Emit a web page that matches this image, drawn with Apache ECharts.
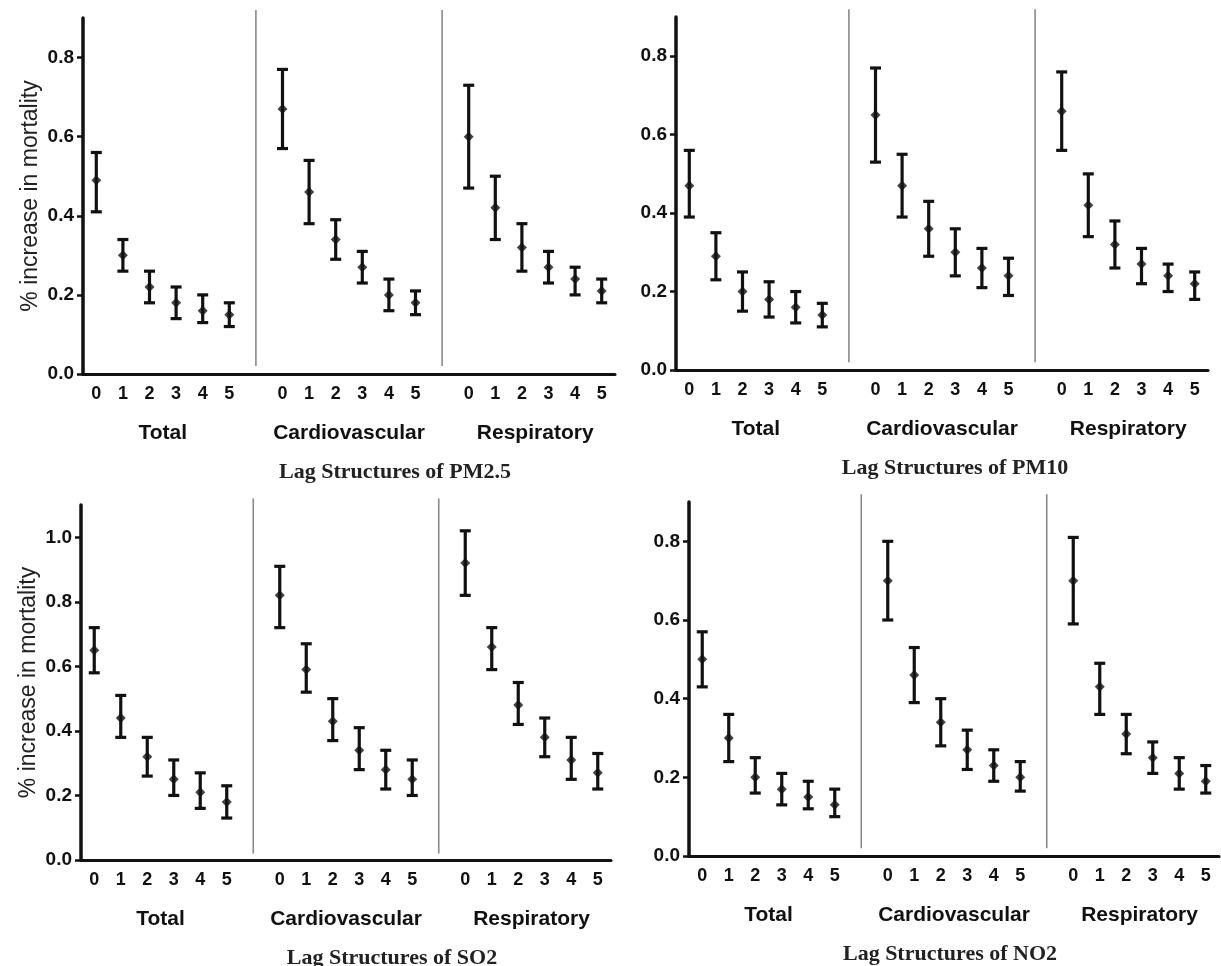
<!DOCTYPE html>
<html>
<head>
<meta charset="utf-8">
<title>Lag Structures</title>
<script src="https://cdn.jsdelivr.net/npm/echarts@6/dist/echarts.min.js"></script>
<style>
  html, body { margin: 0; padding: 0; background: #fff; }
  #chart { width: 1221px; height: 966px; }
</style>
</head>
<body>
<div id="chart"></div>
<script>
// groups and lags on the x axis
const groups = ['Total', 'Cardiovascular', 'Respiratory'];
const lags = ['0', '1', '2', '3', '4', '5'];
const yTicks = [0, 0.2, 0.4, 0.6, 0.8];
const yTicksSO2 = [0, 0.2, 0.4, 0.6, 0.8, 1.0];

// values: Total lag0..5, Cardiovascular lag0..5, Respiratory lag0..5
const pm25Est  = [0.49, 0.30, 0.22, 0.18, 0.16, 0.15,  0.67, 0.46, 0.34, 0.27, 0.20, 0.18,  0.60, 0.42, 0.32, 0.27, 0.24, 0.21];
const pm25Low  = [0.41, 0.26, 0.18, 0.14, 0.13, 0.12,  0.57, 0.38, 0.29, 0.23, 0.16, 0.15,  0.47, 0.34, 0.26, 0.23, 0.20, 0.18];
const pm25High = [0.56, 0.34, 0.26, 0.22, 0.20, 0.18,  0.77, 0.54, 0.39, 0.31, 0.24, 0.21,  0.73, 0.50, 0.38, 0.31, 0.27, 0.24];

const pm10Est  = [0.47, 0.29, 0.20, 0.18, 0.16, 0.14,  0.65, 0.47, 0.36, 0.30, 0.26, 0.24,  0.66, 0.42, 0.32, 0.27, 0.24, 0.22];
const pm10Low  = [0.39, 0.23, 0.15, 0.135, 0.12, 0.11, 0.53, 0.39, 0.29, 0.24, 0.21, 0.19,  0.56, 0.34, 0.26, 0.22, 0.20, 0.18];
const pm10High = [0.56, 0.35, 0.25, 0.225, 0.20, 0.17, 0.77, 0.55, 0.43, 0.36, 0.31, 0.285, 0.76, 0.50, 0.38, 0.31, 0.27, 0.25];

const so2Est  = [0.65, 0.44, 0.32, 0.25, 0.21, 0.18,  0.82, 0.59, 0.43, 0.34, 0.28, 0.25,  0.92, 0.66, 0.48, 0.38, 0.31, 0.27];
const so2Low  = [0.58, 0.38, 0.26, 0.20, 0.16, 0.13,  0.72, 0.52, 0.37, 0.28, 0.22, 0.20,  0.82, 0.59, 0.42, 0.32, 0.25, 0.22];
const so2High = [0.72, 0.51, 0.38, 0.31, 0.27, 0.23,  0.91, 0.67, 0.50, 0.41, 0.34, 0.31,  1.02, 0.72, 0.55, 0.44, 0.38, 0.33];

const no2Est  = [0.50, 0.30, 0.20, 0.17, 0.15, 0.13,  0.70, 0.46, 0.34, 0.27, 0.23, 0.20,  0.70, 0.43, 0.31, 0.25, 0.21, 0.19];
const no2Low  = [0.43, 0.24, 0.16, 0.13, 0.12, 0.10,  0.60, 0.39, 0.28, 0.22, 0.19, 0.165, 0.59, 0.36, 0.26, 0.21, 0.17, 0.16];
const no2High = [0.57, 0.36, 0.25, 0.21, 0.19, 0.17,  0.80, 0.53, 0.40, 0.32, 0.27, 0.24,  0.81, 0.49, 0.36, 0.29, 0.25, 0.23];

const titles = ['Lag Structures of PM2.5', 'Lag Structures of PM10', 'Lag Structures of SO2', 'Lag Structures of NO2'];

// 20 slots: 6 lags, gap, 6 lags, gap, 6 lags
const cats = [];
const slotOf = [];   // point index -> slot index
const sepSlots = [];
groups.forEach((g, gi) => {
  if (gi > 0) { sepSlots.push(cats.length); cats.push('sep' + gi); }
  lags.forEach(l => { slotOf.push(cats.length); cats.push(g + l); });
});
const catLabel = c => c.startsWith('sep') ? '' : c.slice(-1);

const panels = [
  { est: pm25Est, low: pm25Low, high: pm25High, max: 0.9, ticks: yTicks,    grid: { left: 83,  top: 18,  width: 532, height: 356 }, yName: true,  titleX: 395 },
  { est: pm10Est, low: pm10Low, high: pm10High, max: 0.9, ticks: yTicks,    grid: { left: 676, top: 17,  width: 532, height: 353 }, yName: false, titleX: 955 },
  { est: so2Est,  low: so2Low,  high: so2High,  max: 1.1, ticks: yTicksSO2, grid: { left: 81,  top: 505, width: 530, height: 355 }, yName: true,  titleX: 392 },
  { est: no2Est,  low: no2Low,  high: no2High,  max: 0.9, ticks: yTicks,    grid: { left: 689, top: 502, width: 530, height: 354 }, yName: false, titleX: 950 }
];

const ink = '#111';
const sans = '"Liberation Sans", Arial, sans-serif';

const errorBar = (params, api) => {
  const top = api.coord([api.value(0), api.value(2)]);
  const bot = api.coord([api.value(0), api.value(1)]);
  const hw = 5.5;
  const st = { stroke: ink, lineWidth: 3.2 };
  return {
    type: 'group',
    children: [
      { type: 'line', shape: { x1: top[0], y1: top[1], x2: bot[0], y2: bot[1] }, style: st },
      { type: 'line', shape: { x1: top[0] - hw, y1: top[1], x2: top[0] + hw, y2: top[1] }, style: st },
      { type: 'line', shape: { x1: bot[0] - hw, y1: bot[1], x2: bot[0] + hw, y2: bot[1] }, style: st }
    ]
  };
};

// thin grey divider between the groups
const divider = (params, api) => {
  const top = api.coord([api.value(0), api.value(2)]);
  const bot = api.coord([api.value(0), api.value(1)]);
  return {
    type: 'line',
    shape: { x1: top[0], y1: top[1], x2: bot[0], y2: bot[1] },
    style: { stroke: '#8a8a8a', lineWidth: 1.6 }
  };
};

const option = {
  animation: false,
  backgroundColor: '#fff',
  grid: panels.map(p => p.grid),
  xAxis: panels.map((p, i) => ({
    type: 'category',
    gridIndex: i,
    data: cats,
    axisLine: { lineStyle: { color: ink, width: 3 } },
    axisTick: { alignWithLabel: true, interval: 0, length: 5, lineStyle: { color: ink, width: 3 } },
    axisLabel: { interval: 0, margin: 11, formatter: catLabel, color: ink, fontFamily: sans, fontWeight: 'bold', fontSize: 18 },
    splitLine: { show: false }
  })),
  yAxis: panels.map((p, i) => ({
    type: 'value',
    gridIndex: i,
    min: 0,
    max: p.max,
    name: p.yName ? '% increase in mortality' : '',
    nameLocation: 'middle',
    nameGap: 41,
    nameRotate: 90,
    nameTextStyle: { color: '#222', fontFamily: sans, fontSize: 23 },
    axisLine: { show: true, lineStyle: { color: ink, width: 3.5 } },
    axisTick: { show: true, length: 6, customValues: p.ticks, lineStyle: { color: ink, width: 2.5 } },
    axisLabel: { customValues: p.ticks, margin: 9, formatter: v => v.toFixed(1), color: ink, fontFamily: sans, fontWeight: 'bold', fontSize: 19 },
    splitLine: { show: false }
  })),
  series: panels.flatMap((p, i) => [
    {
      type: 'custom',
      xAxisIndex: i,
      yAxisIndex: i,
      renderItem: divider,
      encode: { x: 0, y: [1, 2] },
      clip: false,
      data: sepSlots.map(s => [s, 0.02, p.max + 0.02]),
      silent: true
    },
    {
      type: 'custom',
      xAxisIndex: i,
      yAxisIndex: i,
      renderItem: errorBar,
      encode: { x: 0, y: [1, 2] },
      data: p.est.map((v, k) => [slotOf[k], p.low[k], p.high[k]]),
      silent: true
    },
    {
      type: 'scatter',
      xAxisIndex: i,
      yAxisIndex: i,
      symbol: 'diamond',
      symbolSize: 10,
      itemStyle: { color: ink },
      data: p.est.map((v, k) => [slotOf[k], v]),
      silent: true
    }
  ])
};

const chart = echarts.init(document.getElementById('chart'));
chart.setOption(option);

// group labels under the lag ticks and panel titles
const graphic = [];
panels.forEach((p, i) => {
  const axisY = p.grid.top + p.grid.height;
  groups.forEach((g, gi) => {
    const a = chart.convertToPixel({ xAxisIndex: i }, slotOf[gi * 6 + 2]);
    const b = chart.convertToPixel({ xAxisIndex: i }, slotOf[gi * 6 + 3]);
    graphic.push({
      type: 'text',
      x: (a + b) / 2,
      y: axisY + 59,
      style: { text: g, fill: ink, font: 'bold 21px ' + sans, align: 'center', verticalAlign: 'middle' }
    });
  });
  graphic.push({
    type: 'text',
    x: p.titleX,
    y: axisY + 98,
    style: { text: titles[i], fill: '#222', font: 'bold 22px "Liberation Serif", "Times New Roman", serif', align: 'center', verticalAlign: 'middle' }
  });
});
chart.setOption({ graphic });
</script>
</body>
</html>
